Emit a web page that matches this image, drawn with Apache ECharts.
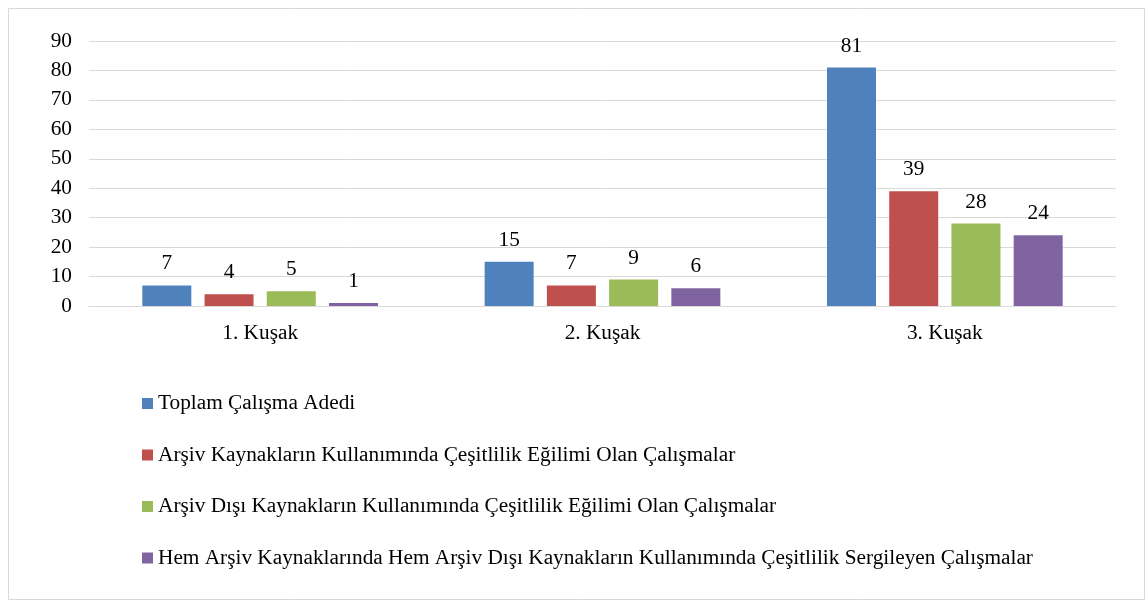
<!DOCTYPE html>
<html>
<head>
<meta charset="utf-8">
<script src="https://cdn.jsdelivr.net/npm/echarts@6/dist/echarts.min.js"></script>
<style>
	html, body { margin: 0; padding: 0; background: #fff; }
	#chart { width: 1146px; height: 601px; }
</style>
</head>
<body>
<div id="chart"></div>
<script>
	// kategoriler ve seriler
	var categories = ['1. Kuşak', '2. Kuşak', '3. Kuşak'];
	var seriesNames = [
		'Toplam Çalışma Adedi',
		'Arşiv Kaynakların Kullanımında Çeşitlilik Eğilimi Olan Çalışmalar',
		'Arşiv Dışı Kaynakların Kullanımında Çeşitlilik Eğilimi Olan Çalışmalar',
		'Hem Arşiv Kaynaklarında Hem Arşiv Dışı Kaynakların Kullanımında Çeşitlilik Sergileyen Çalışmalar'
	];
	var toplam = [7, 15, 81];
	var arsiv = [4, 7, 39];
	var arsivDisi = [5, 9, 28];
	var hem = [1, 6, 24];
	var colors = ['#4f81bd', '#c0504d', '#9bbb59', '#8064a2'];

	var font = '"Liberation Serif", "Times New Roman", serif';
	var fs = 21.3;
	var seriesData = [toplam, arsiv, arsivDisi, hem];

	var chart = echarts.init(document.getElementById('chart'));
	chart.setOption({
		animation: false,
		textStyle: { fontFamily: font },
		graphic: [{
			type: 'rect',
			shape: { x: 8.5, y: 8.5, width: 1136, height: 591 },
			style: { fill: 'none', stroke: '#d9d9d9', lineWidth: 1 },
			silent: true
		}],
		grid: { left: 89, right: 30, top: 41, bottom: 295 },
		legend: {
			orient: 'vertical',
			left: 137,
			top: 388,
			itemWidth: 11,
			itemHeight: 11,
			itemGap: 30.5,
			icon: 'rect',
			textStyle: { fontFamily: font, fontSize: fs, color: '#000', lineHeight: 21 },
			data: seriesNames
		},
		xAxis: {
			type: 'category',
			data: categories,
			axisLine: { lineStyle: { color: '#d9d9d9', width: 1 } },
			axisTick: { show: false },
			axisLabel: { fontFamily: font, fontSize: fs, color: '#000', margin: 17 }
		},
		yAxis: {
			type: 'value',
			min: 0,
			max: 90,
			interval: 10,
			axisLine: { show: false },
			axisTick: { show: false },
			axisLabel: { fontFamily: font, fontSize: fs, color: '#000', margin: 17 },
			splitLine: { lineStyle: { color: '#d9d9d9', width: 1 } }
		},
		series: seriesData.map(function (d, i) {
			return {
				name: seriesNames[i],
				type: 'bar',
				data: d,
				barWidth: 49,
				barGap: '27%',
				itemStyle: { color: colors[i] },
				label: {
					show: true,
					position: 'top',
					distance: 11,
					fontFamily: font,
					fontSize: fs,
					color: '#000'
				}
			};
		})
	});
</script>
</body>
</html>
